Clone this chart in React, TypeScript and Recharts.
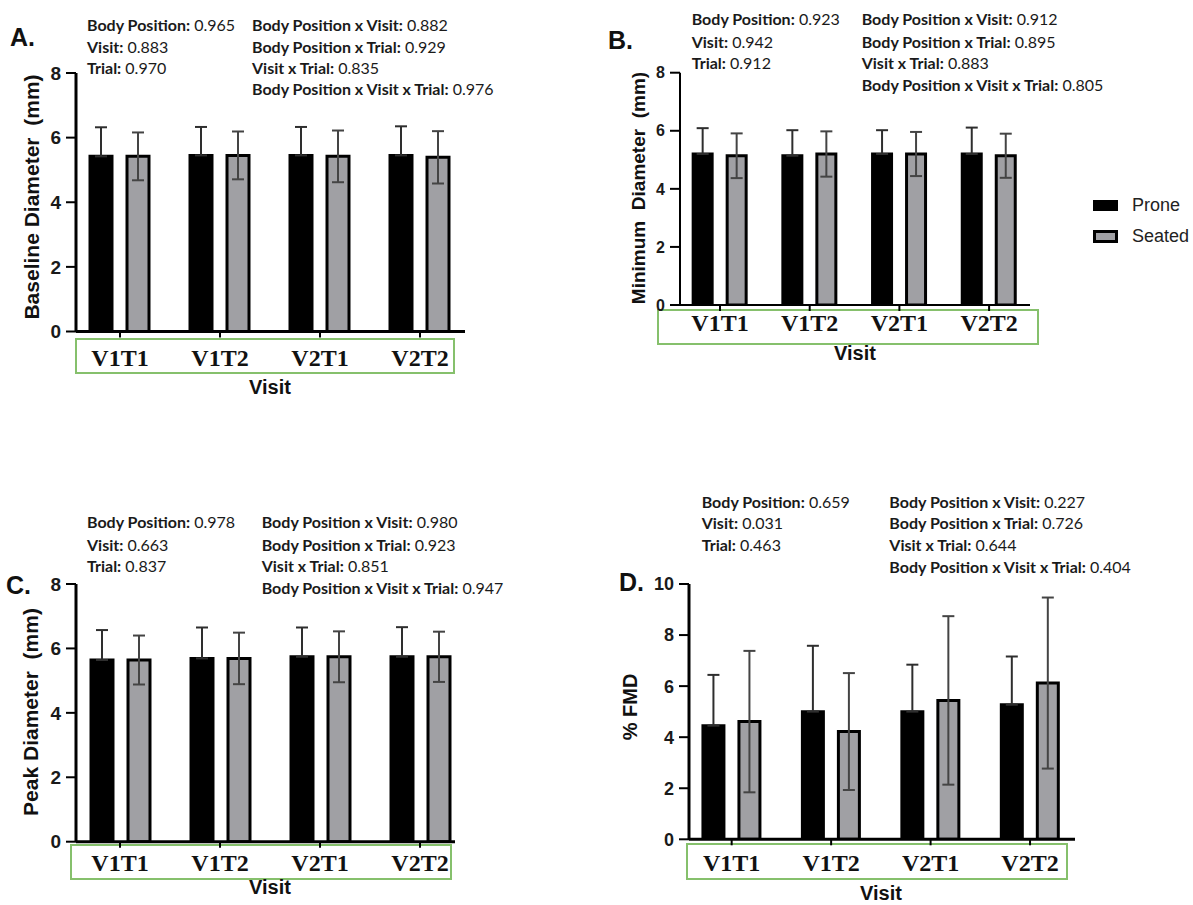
import React from 'react';
import { BarChart, Bar, XAxis, YAxis, ErrorBar } from 'recharts';

const categories = ['V1T1', 'V1T2', 'V2T1', 'V2T2'];
const positions = [1, 2, 3, 4];

// A. Baseline Diameter (mm)
const baselineProne = [5.42, 5.45, 5.45, 5.45];
const baselineProneSD = [0.9, 0.88, 0.88, 0.9];
const baselineSeated = [5.42, 5.45, 5.42, 5.39];
const baselineSeatedSD = [0.74, 0.74, 0.8, 0.81];

// B. Minimum Diameter (mm)
const minimumProne = [5.2, 5.14, 5.2, 5.2];
const minimumProneSD = [0.89, 0.88, 0.82, 0.91];
const minimumSeated = [5.14, 5.2, 5.2, 5.14];
const minimumSeatedSD = [0.77, 0.78, 0.76, 0.76];

// C. Peak Diameter (mm)
const peakProne = [5.64, 5.69, 5.74, 5.74];
const peakProneSD = [0.93, 0.96, 0.91, 0.92];
const peakSeated = [5.64, 5.69, 5.74, 5.74];
const peakSeatedSD = [0.76, 0.8, 0.79, 0.78];

// D. %FMD
const fmdProne = [4.45, 5.0, 5.0, 5.27];
const fmdProneSD = [1.99, 2.58, 1.84, 1.89];
const fmdSeated = [4.61, 4.22, 5.44, 6.12];
const fmdSeatedSD = [2.77, 2.29, 3.3, 3.35];

const diamTicks = [0, 2, 4, 6, 8];
const fmdTicks = [0, 2, 4, 6, 8, 10];

const statsA = {
  main: [['Body Position:', '0.965'], ['Visit:', '0.883'], ['Trial:', '0.970']],
  inter: [['Body Position x Visit:', '0.882'], ['Body Position x Trial:', '0.929'], ['Visit x Trial:', '0.835'], ['Body Position x Visit x Trial:', '0.976']],
};
const statsB = {
  main: [['Body Position:', '0.923'], ['Visit:', '0.942'], ['Trial:', '0.912']],
  inter: [['Body Position x Visit:', '0.912'], ['Body Position x Trial:', '0.895'], ['Visit x Trial:', '0.883'], ['Body Position x Visit x Trial:', '0.805']],
};
const statsC = {
  main: [['Body Position:', '0.978'], ['Visit:', '0.663'], ['Trial:', '0.837']],
  inter: [['Body Position x Visit:', '0.980'], ['Body Position x Trial:', '0.923'], ['Visit x Trial:', '0.851'], ['Body Position x Visit x Trial:', '0.947']],
};
const statsD = {
  main: [['Body Position:', '0.659'], ['Visit:', '0.031'], ['Trial:', '0.463']],
  inter: [['Body Position x Visit:', '0.227'], ['Body Position x Trial:', '0.726'], ['Visit x Trial:', '0.644'], ['Body Position x Visit x Trial:', '0.404']],
};

const buildRows = (p: number[], ps: number[], s: number[], ss: number[]) =>
  categories.map((c, i) => ({
    pos: positions[i],
    name: c,
    prone: p[i],
    proneErr: [0, ps[i]],
    seated: s[i],
    seatedErr: ss[i],
  }));

const SANS = '"Liberation Sans", Arial, sans-serif';
const SERIF = '"Liberation Serif", "Times New Roman", serif';
const NOTE = 'Lato, "Open Sans", sans-serif';

const CatTick = (props: any) => {
  const { x, payload, labelY } = props;
  const idx = positions.indexOf(payload.value);
  return (
    <text x={x} y={labelY} textAnchor="middle" dominantBaseline="central" fontFamily={SERIF} fontWeight={700} fontSize={24} fill="#111">
      {categories[idx]}
    </text>
  );
};

type PanelProps = {
  left: number; top: number; width: number; height: number;
  margin: { top: number; right: number; bottom: number; left: number };
  data: any[]; yDomain: [number, number]; yTicks: number[]; xDomain: [number, number];
  yFont: number; axisW: number; barSize: number; barGap: number; labelY: number;
};

function Panel(p: PanelProps) {
  return (
    <div style={{ position: 'absolute', left: p.left, top: p.top }}>
      <BarChart width={p.width} height={p.height} data={p.data} margin={p.margin} barGap={p.barGap}>
        <XAxis
          type="number"
          dataKey="pos"
          domain={p.xDomain}
          ticks={positions}
          allowDataOverflow
          interval={0}
          height={30}
          axisLine={{ stroke: '#000', strokeWidth: p.axisW }}
          tickLine={{ stroke: '#000', strokeWidth: 2 }}
          tickSize={6}
          tick={(t: any) => <CatTick {...t} labelY={p.labelY} />}
        />
        <YAxis
          type="number"
          domain={p.yDomain}
          ticks={p.yTicks}
          allowDataOverflow
          width={60}
          interval={0}
          axisLine={{ stroke: '#000', strokeWidth: p.axisW }}
          tickLine={{ stroke: '#000', strokeWidth: 2 }}
          tickSize={10}
          tickMargin={5}
          tick={{ fontSize: p.yFont, fontWeight: 700, fill: '#1a1a1a', fontFamily: SANS }}
        />
        <Bar dataKey="prone" fill="#000" stroke="#000" strokeWidth={3} barSize={p.barSize} isAnimationActive={false}>
          <ErrorBar dataKey="proneErr" width={6} stroke="#2e2e2e" strokeWidth={2} direction="y" />
        </Bar>
        <Bar dataKey="seated" fill="#a0a0a4" stroke="#000" strokeWidth={3} barSize={p.barSize} isAnimationActive={false}>
          <ErrorBar dataKey="seatedErr" width={6} stroke="#444" strokeWidth={2} direction="y" />
        </Bar>
      </BarChart>
    </div>
  );
}

const Abs = ({ x, cy, children, style }: any) => (
  <div style={{ position: 'absolute', left: x, top: cy, transform: 'translateY(-50%)', lineHeight: 1, whiteSpace: 'pre', ...style }}>
    {children}
  </div>
);

const Centered = ({ cx, cy, rotate, children, style }: any) => (
  <div
    style={{
      position: 'absolute', left: cx, top: cy, lineHeight: 1, whiteSpace: 'pre',
      transform: `translate(-50%, -50%)${rotate ? ' rotate(-90deg)' : ''}`, ...style,
    }}
  >
    {children}
  </div>
);

const Stats = ({ stats, x1, x2, ys }: any) => (
  <>
    {stats.main.map((s: string[], i: number) => (
      <Abs key={'m' + i} x={x1} cy={ys[i]} style={{ fontFamily: NOTE, fontSize: 16, color: '#1a1a1a' }}>
        <b>{s[0]}</b> {s[1]}
      </Abs>
    ))}
    {stats.inter.map((s: string[], i: number) => (
      <Abs key={'i' + i} x={x2} cy={ys[i]} style={{ fontFamily: NOTE, fontSize: 16, color: '#1a1a1a' }}>
        <b>{s[0]}</b> {s[1]}
      </Abs>
    ))}
  </>
);

const GreenBox = ({ x1, x2, y1, y2 }: any) => (
  <div style={{ position: 'absolute', left: x1, top: y1, width: x2 - x1, height: y2 - y1, border: '2px solid #86c06c', boxSizing: 'border-box' }} />
);

const letterStyle = { fontFamily: SANS, fontWeight: 700, fontSize: 25, color: '#111' };
const titleStyle = (fs: number) => ({ fontFamily: SANS, fontWeight: 700, fontSize: fs, color: '#111' });

export default function App() {
  return (
    <div style={{ position: 'absolute', left: 0, top: 0, width: 1193, height: 905, background: '#fff', fontFamily: SANS, overflow: 'hidden' }}>
      <GreenBox x1={75} x2={455} y1={338} y2={374} />
      <GreenBox x1={657} x2={1039} y1={309} y2={345} />
      <GreenBox x1={70} x2={452} y1={844} y2={880} />
      <GreenBox x1={686} x2={1068} y1={843} y2={880} />

      <Panel left={0} top={0} width={480} height={400}
        margin={{ top: 73, left: 16, right: 15, bottom: 38.5 }}
        data={buildRows(baselineProne, baselineProneSD, baselineSeated, baselineSeatedSD)}
        yDomain={[0, 8]} yTicks={diamTicks} xDomain={[0.56, 4.45]}
        yFont={19} axisW={3} barSize={22} barGap={15} labelY={358} />
      <Panel left={600} top={0} width={450} height={380}
        margin={{ top: 72.7, left: 20, right: 20, bottom: 45 }}
        data={buildRows(minimumProne, minimumProneSD, minimumSeated, minimumSeatedSD)}
        yDomain={[0, 8]} yTicks={diamTicks} xDomain={[0.554, 4.456]}
        yFont={16} axisW={2} barSize={19} barGap={15} labelY={323} />
      <Panel left={0} top={500} width={480} height={400}
        margin={{ top: 84, left: 16, right: 25, bottom: 28.3 }}
        data={buildRows(peakProne, peakProneSD, peakSeated, peakSeatedSD)}
        yDomain={[0, 8]} yTicks={diamTicks} xDomain={[0.56, 4.35]}
        yFont={19} axisW={3} barSize={22} barGap={15} labelY={363} />
      <Panel left={600} top={500} width={500} height={400}
        margin={{ top: 84, left: 29, right: 25, bottom: 30.7 }}
        data={buildRows(fmdProne, fmdProneSD, fmdSeated, fmdSeatedSD)}
        yDomain={[0, 10]} yTicks={fmdTicks} xDomain={[0.571, 4.452]}
        yFont={18} axisW={3} barSize={21} barGap={15} labelY={363} />

      <Abs x={10} cy={37} style={letterStyle}>A.</Abs>
      <Abs x={608} cy={40} style={letterStyle}>B.</Abs>
      <Abs x={6} cy={585} style={letterStyle}>C.</Abs>
      <Abs x={619} cy={582} style={letterStyle}>D.</Abs>

      <Stats stats={statsA} x1={87} x2={252} ys={[25, 46.7, 68.3, 89.3]} />
      <Stats stats={statsB} x1={691.7} x2={861.7} ys={[19, 41.7, 63.3, 85]} />
      <Stats stats={statsC} x1={87} x2={261.7} ys={[521.7, 545, 566, 588.3]} />
      <Stats stats={statsD} x1={701.7} x2={889.3} ys={[501.7, 523.3, 545, 566.7]} />

      <Centered cx={31} cy={197} rotate style={titleStyle(21)}>{'Baseline Diameter  (mm)'}</Centered>
      <Centered cx={638} cy={188} rotate style={titleStyle(19)}>{'Minimum  Diameter  (mm)'}</Centered>
      <Centered cx={30} cy={712} rotate style={titleStyle(21)}>{'Peak Diameter  (mm)'}</Centered>
      <Centered cx={630} cy={707} rotate style={titleStyle(20)}>{'% FMD'}</Centered>

      <Centered cx={270} cy={387} style={titleStyle(20)}>Visit</Centered>
      <Centered cx={855} cy={353} style={titleStyle(20)}>Visit</Centered>
      <Centered cx={270} cy={887} style={titleStyle(20)}>Visit</Centered>
      <Centered cx={881} cy={893} style={titleStyle(20)}>Visit</Centered>

      <div style={{ position: 'absolute', left: 1093, top: 200, width: 25, height: 11, background: '#000' }} />
      <Abs x={1132} cy={205} style={{ fontFamily: SANS, fontSize: 18, color: '#222' }}>Prone</Abs>
      <div style={{ position: 'absolute', left: 1093, top: 230, width: 25, height: 13, background: '#a0a0a4', border: '3px solid #000', boxSizing: 'border-box' }} />
      <Abs x={1132} cy={236} style={{ fontFamily: SANS, fontSize: 18, color: '#222' }}>Seated</Abs>
    </div>
  );
}
